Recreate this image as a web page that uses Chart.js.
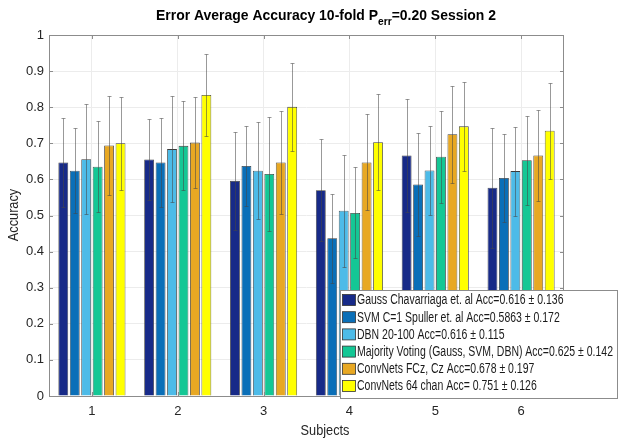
<!DOCTYPE html>
<html>
<head>
<meta charset="utf-8">
<script src="https://cdn.jsdelivr.net/npm/chart.js@4"></script>
<style>
  html, body { margin: 0; padding: 0; background: #fff; }
  #wrap { width: 626px; height: 441px; }
</style>
</head>
<body>
<div id="wrap"><canvas id="accChart" width="626" height="441"></canvas></div>
<script>
// subjects on the x axis
const subjects = ['1', '2', '3', '4', '5', '6'];
const yTicks = [0, 0.1, 0.2, 0.3, 0.4, 0.5, 0.6, 0.7, 0.8, 0.9, 1];

// mean accuracy per subject, and std (error bar half length)
const gauss = [0.647, 0.655, 0.596, 0.570, 0.666, 0.577];
const gaussErr = [0.123, 0.113, 0.135, 0.142, 0.156, 0.166];
const svm = [0.624, 0.647, 0.637, 0.437, 0.586, 0.604];
const svmErr = [0.117, 0.124, 0.110, 0.123, 0.142, 0.123];
const dbn = [0.656, 0.684, 0.624, 0.513, 0.625, 0.623];
const dbnErr = [0.153, 0.146, 0.135, 0.155, 0.124, 0.123];
const voting = [0.635, 0.693, 0.615, 0.507, 0.663, 0.653];
const votingErr = [0.126, 0.123, 0.157, 0.126, 0.127, 0.123];
const fcz = [0.694, 0.702, 0.647, 0.647, 0.725, 0.666];
const fczErr = [0.138, 0.126, 0.142, 0.133, 0.134, 0.126];
const chan64 = [0.700, 0.834, 0.801, 0.703, 0.747, 0.735];
const chan64Err = [0.128, 0.114, 0.122, 0.133, 0.123, 0.133];

const seriesLabels = [
    'Gauss Chavarriaga et. al Acc=0.616 \u00b1 0.136',
    'SVM C=1 Spuller et. al Acc=0.5863 \u00b1 0.172',
    'DBN 20-100 Acc=0.616 \u00b1 0.115',
    'Majority Voting (Gauss, SVM, DBN) Acc=0.625 \u00b1 0.142',
    'ConvNets FCz, Cz Acc=0.678 \u00b1 0.197',
    'ConvNets 64 chan Acc= 0.751 \u00b1 0.126'
];
const seriesValues = [gauss, svm, dbn, voting, fcz, chan64];
const seriesErrors = [gaussErr, svmErr, dbnErr, votingErr, fczErr, chan64Err];
const seriesColors = ['#172a88', '#0a6fb8', '#4dbbe8', '#14c795', '#e8a823', '#ffff00'];

const FONT = '"Liberation Sans", Arial, sans-serif';

// draw text squeezed horizontally (the original uses a condensed face)
function narrowText(ctx, text, x, y, sx) {
    ctx.save();
    ctx.translate(x, y);
    ctx.scale(sx, 1);
    ctx.fillText(text, 0, 0);
    ctx.restore();
}

const errorBars = {
    id: 'errorBars',
    afterDatasetsDraw(chart) {
        const ctx = chart.ctx;
        const y = chart.scales.y;
        ctx.save();
        ctx.strokeStyle = 'rgba(70,70,70,0.55)';
        ctx.lineWidth = 1;
        chart.data.datasets.forEach((ds, di) => {
            const meta = chart.getDatasetMeta(di);
            meta.data.forEach((bar, i) => {
                const e = ds.errors[i];
                const top = Math.round(y.getPixelForValue(ds.data[i] + e)) + 0.5;
                const bot = Math.round(y.getPixelForValue(ds.data[i] - e)) + 0.5;
                const x = Math.round(bar.x) + 0.5;
                ctx.beginPath();
                ctx.moveTo(x, top); ctx.lineTo(x, bot);
                ctx.moveTo(x - 2, top); ctx.lineTo(x + 2, top);
                ctx.moveTo(x - 2, bot); ctx.lineTo(x + 2, bot);
                ctx.stroke();
            });
        });
        ctx.restore();
    }
};

const frameAndText = {
    id: 'frameAndText',
    afterDraw(chart) {
        const ctx = chart.ctx;
        const a = chart.chartArea;
        const x = chart.scales.x, y = chart.scales.y;
        ctx.save();
        // box
        ctx.strokeStyle = '#8c8c8c';
        ctx.lineWidth = 1;
        ctx.strokeRect(a.left + 0.5, a.top + 0.5, a.right - a.left - 1, a.bottom - a.top);
        // inward ticks
        ctx.beginPath();
        yTicks.forEach(v => {
            const py = Math.round(y.getPixelForValue(v)) + 0.5;
            ctx.moveTo(a.left, py); ctx.lineTo(a.left + 4, py);
            ctx.moveTo(a.right, py); ctx.lineTo(a.right - 4, py);
        });
        subjects.forEach((s, i) => {
            const px = Math.round(x.getPixelForValue(i)) + 0.5;
            ctx.moveTo(px, a.bottom); ctx.lineTo(px, a.bottom - 4);
            ctx.moveTo(px, a.top); ctx.lineTo(px, a.top + 4);
        });
        ctx.stroke();

        // title with subscript
        ctx.fillStyle = '#000';
        ctx.textBaseline = 'alphabetic';
        ctx.textAlign = 'left';
        const sq = 0.93;
        const big = 'bold 15px ' + FONT, small = 'bold 11px ' + FONT;
        const p1 = 'Error Average Accuracy 10-fold P', p2 = 'err', p3 = '=0.20 Session 2';
        ctx.font = big; const w1 = ctx.measureText(p1).width * sq, w3 = ctx.measureText(p3).width * sq;
        ctx.font = small; const w2 = ctx.measureText(p2).width * sq;
        let tx = 326 - (w1 + w2 + w3) / 2;
        ctx.font = big; narrowText(ctx, p1, tx, 20, sq); tx += w1;
        ctx.font = small; narrowText(ctx, p2, tx, 25, sq); tx += w2;
        ctx.font = big; narrowText(ctx, p3, tx, 20, sq);

        // axis titles
        ctx.fillStyle = '#262626';
        ctx.font = '15px ' + FONT;
        ctx.textAlign = 'center';
        ctx.textBaseline = 'middle';
        narrowText(ctx, 'Subjects', 325, 431, 0.85);
        ctx.translate(14, 215);
        ctx.rotate(-Math.PI / 2);
        narrowText(ctx, 'Accuracy', 0, 0, 0.85);
        ctx.restore();

        // legend box in the lower right corner
        ctx.save();
        const lx = 340, ly = 290, lw = 277, lh = 108, rowH = 17.2;
        ctx.fillStyle = '#fff';
        ctx.fillRect(lx, ly, lw, lh);
        ctx.strokeStyle = '#8c8c8c';
        ctx.strokeRect(lx + 0.5, ly + 0.5, lw, lh);
        ctx.font = '14px ' + FONT;
        ctx.textAlign = 'left';
        ctx.textBaseline = 'middle';
        const widest = Math.max(...chart.data.datasets.map(ds => ctx.measureText(ds.label).width));
        const lsq = Math.min(1, 256 / widest);
        chart.data.datasets.forEach((ds, i) => {
            const cy = ly + 10 + i * rowH;
            ctx.fillStyle = ds.backgroundColor;
            ctx.fillRect(lx + 2.5, cy - 5.5, 13, 11);
            ctx.strokeStyle = '#333';
            ctx.lineWidth = 0.8;
            ctx.strokeRect(lx + 2.5, cy - 5.5, 13, 11);
            ctx.fillStyle = '#1a1a1a';
            narrowText(ctx, ds.label, lx + 17, cy + 0.5, lsq);
        });
        ctx.restore();
    }
};

const ctx = document.getElementById('accChart').getContext('2d');
new Chart(ctx, {
    type: 'bar',
    data: {
        labels: subjects,
        datasets: seriesValues.map((vals, i) => ({
            label: seriesLabels[i],
            data: vals,
            errors: seriesErrors[i],
            backgroundColor: seriesColors[i],
            borderColor: '#3a3a3a',
            borderWidth: 0.8,
            categoryPercentage: 0.8,
            barPercentage: 0.86
        }))
    },
    options: {
        responsive: false,
        animation: false,
        devicePixelRatio: 1,
        layout: { padding: { left: 0, right: 62, top: 35, bottom: 0 } },
        scales: {
            x: {
                grid: { offset: false, color: '#ececec', drawTicks: false },
                border: { display: false },
                ticks: { padding: 8, color: '#262626', font: { family: FONT, size: 13 } },
                afterFit(scale) { scale.height = 45; }
            },
            y: {
                min: 0,
                max: 1,
                afterBuildTicks(scale) { scale.ticks = yTicks.map(v => ({ value: v })); },
                grid: { color: '#ececec', drawTicks: false },
                border: { display: false },
                ticks: {
                    padding: 5,
                    color: '#262626',
                    font: { family: FONT, size: 13 },
                    callback: v => String(Math.round(v * 10) / 10)
                },
                afterFit(scale) { scale.width = 49; }
            }
        },
        plugins: {
            legend: { display: false },
            tooltip: { enabled: false }
        }
    },
    plugins: [errorBars, frameAndText]
});
</script>
</body>
</html>
